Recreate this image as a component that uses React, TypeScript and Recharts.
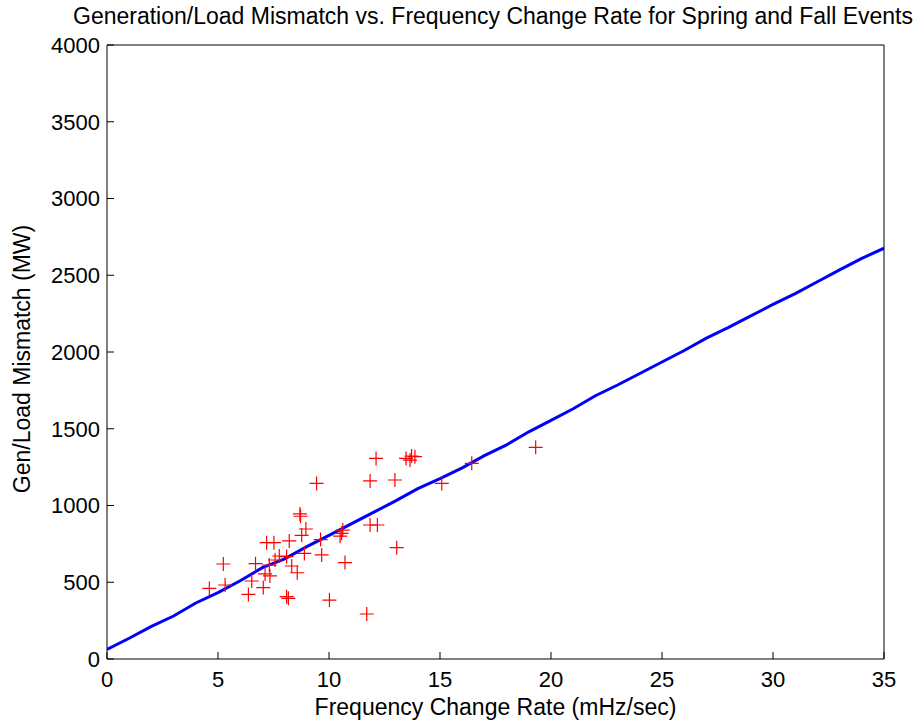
import React from "react";
import {
  ComposedChart,
  Line,
  Scatter,
  XAxis,
  YAxis,
} from "recharts";

// fitted mismatch curve (MW) at each integer rate step (mHz/sec)
const fitRate = [
  0, 1, 2, 3, 4, 5, 6, 7, 8, 9, 10, 11, 12, 13, 14, 15, 16, 17, 18, 19, 20, 21,
  22, 23, 24, 25, 26, 27, 28, 29, 30, 31, 32, 33, 34, 35,
];
const fitMW = [
  63, 135, 212, 280, 365, 432, 510, 595, 652, 732, 805, 880, 955, 1030, 1110,
  1175, 1245, 1325, 1395, 1480, 1555, 1630, 1715, 1785, 1860, 1935, 2010, 2090,
  2160, 2235, 2310, 2380, 2458, 2535, 2610, 2676,
];

// observed spring / fall events
const eventRate = [
  12.12, 13.47, 13.72, 13.87, 13.65, 9.44, 11.85, 12.97, 15.08, 16.43, 19.31,
  8.69, 8.72, 8.96, 8.77, 8.21, 7.19, 7.52, 10.57, 10.62, 10.5, 9.62, 11.85,
  12.18, 13.05, 5.24, 6.69, 7.76, 8.09, 8.89, 9.67, 7.57, 7.31, 8.32, 8.57,
  10.72, 7.12, 7.34, 6.52, 7.04, 4.61, 5.32, 6.37, 8.09, 8.17, 10.02, 11.7,
];
const eventMW = [
  1307, 1307, 1322, 1318, 1296, 1144, 1160, 1166, 1144, 1275, 1379, 945, 930,
  847, 806, 769, 758, 758, 819, 840, 800, 778, 873, 873, 725, 619, 621, 671,
  667, 688, 678, 645, 612, 606, 562, 628, 554, 541, 508, 465, 460, 482, 421,
  406, 395, 384, 293,
];

const xTicks = [0, 5, 10, 15, 20, 25, 30, 35];
const yTicks = [0, 500, 1000, 1500, 2000, 2500, 3000, 3500, 4000];

const fitData = fitRate.map((x, i) => ({ x, y: fitMW[i] }));
const eventData = eventRate.map((x, i) => ({ x, y: eventMW[i] }));

const font = "'Liberation Sans', Arial, sans-serif";
const tickStyle = { fill: "#000", fontSize: 22, fontFamily: font };

const PlusMark = (props: any) => {
  const { cx, cy } = props;
  if (cx == null || cy == null) return <g />;
  return (
    <path
      d={`M${cx - 7},${cy}H${cx + 7}M${cx},${cy - 7}V${cy + 7}`}
      stroke="#ff0000"
      strokeWidth={1.2}
      fill="none"
    />
  );
};

export default function App() {
  return (
    <div
      style={{
        position: "absolute",
        left: 0,
        top: 0,
        width: 921,
        height: 726,
        background: "#fff",
        fontFamily: font,
        lineHeight: 1,
      }}
    >
      <div
        style={{
          position: "absolute",
          left: 0,
          width: 986,
          top: 5,
          textAlign: "center",
          fontSize: 23,
          color: "#000",
          whiteSpace: "nowrap",
        }}
      >
        Generation/Load Mismatch vs. Frequency Change Rate for Spring and Fall Events
      </div>
      <div
        style={{
          position: "absolute",
          left: 107,
          width: 777,
          top: 696,
          textAlign: "center",
          fontSize: 23,
          color: "#000",
          whiteSpace: "nowrap",
        }}
      >
        Frequency Change Rate (mHz/sec)
      </div>
      <div
        style={{
          position: "absolute",
          left: 22,
          top: 359,
          transform: "translate(-50%, -50%) rotate(-90deg)",
          fontSize: 23,
          color: "#000",
          whiteSpace: "nowrap",
        }}
      >
        Gen/Load Mismatch (MW)
      </div>
      <ComposedChart
        width={921}
        height={726}
        margin={{ top: 44, right: 36, left: 47, bottom: 37 }}
      >
        <XAxis
          dataKey="x"
          type="number"
          domain={[0, 35]}
          ticks={xTicks}
          height={30}
          stroke="#000"
          tickSize={-7}
          tickMargin={19}
          tick={tickStyle}
          allowDataOverflow
        />
        <XAxis
          xAxisId="top"
          orientation="top"
          type="number"
          domain={[0, 35]}
          ticks={xTicks}
          height={1}
          stroke="#000"
          tickSize={-7}
          tick={false}
          allowDataOverflow
        />
        <YAxis
          type="number"
          domain={[0, 4000]}
          ticks={yTicks}
          width={60}
          stroke="#000"
          tickSize={-7}
          tickMargin={14}
          tick={tickStyle}
          allowDataOverflow
        />
        <YAxis
          yAxisId="right"
          orientation="right"
          type="number"
          domain={[0, 4000]}
          ticks={yTicks}
          width={1}
          stroke="#000"
          tickSize={-7}
          tick={false}
          allowDataOverflow
        />
        <Line
          data={fitData}
          dataKey="y"
          type="linear"
          stroke="#0000ff"
          strokeWidth={3}
          dot={false}
          isAnimationActive={false}
        />
        <Scatter
          data={eventData}
          dataKey="y"
          shape={PlusMark}
          isAnimationActive={false}
        />
      </ComposedChart>
    </div>
  );
}
